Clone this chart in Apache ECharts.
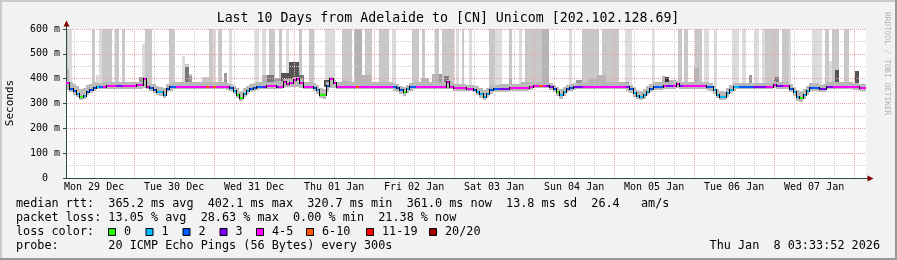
<!DOCTYPE html>
<html><head><meta charset="utf-8">
<script src="https://cdn.jsdelivr.net/npm/echarts@6/dist/echarts.min.js"></script>
<style>html,body{margin:0;padding:0;background:#f2f2f2}#c{width:897px;height:260px}</style>
</head><body><div id="c"></div>
<script>
// ---------------- DATA ----------------
const titleText = 'Last 10 Days from Adelaide to [CN] Unicom [202.102.128.69]';
const dayLabels = ['Mon 29 Dec','Tue 30 Dec','Wed 31 Dec','Thu 01 Jan','Fri 02 Jan','Sat 03 Jan','Sun 04 Jan','Mon 05 Jan','Tue 06 Jan','Wed 07 Jan'];
const startHour = 3.564;   // hours after Mon 29 Dec 00:00
const endHour = 243.564;   // Thu Jan 8 03:33:52
// hourly median rtt (ms)
const median = [
383,360,350,340,325,330,348,355,364,368,
368,368,369,369,369,369,369,369,369,369,
372,373,373,397,368,362,355,348,345,334,
360,366,368,368,368,368,368,368,368,368,
368,368,368,368,368,368,368,368,366,362,
352,336,322,340,352,358,364,366,368,368,
369,369,369,368,368,388,377,382,396,397,
382,368,368,368,364,355,335,334,372,398,
382,368,368,368,368,368,368,368,368,368,
368,368,368,368,368,368,368,368,366,364,
354,347,358,366,368,368,368,368,368,368,
368,368,368,368,385,368,361,361,361,361,
358,358,356,348,337,327,340,354,357,357,
358,358,358,361,361,361,361,361,361,366,
372,372,372,372,372,368,358,346,334,346,
358,362,366,368,368,368,368,368,368,368,
368,368,368,368,368,368,368,368,366,357,
341,330,327,334,348,358,368,368,368,371,
371,371,371,378,370,370,370,370,370,370,
370,370,368,366,354,336,327,327,341,356,
366,368,368,368,368,368,368,368,368,368,
368,368,375,370,370,370,370,360,346,327,
321,334,350,364,364,364,358,360,368,368,
368,368,368,368,368,368,366,366,362,362];
// hourly loss class (index into lossLabels)
const loss = [
4,2,2,1,0,1,2,2,2,1, 2,4,4,4,4,3,3,4,4,4, 4,4,4,4,4,2,2,1,1,1, 2,2,2,4,4,4,4,4,4,4,
4,4,5,4,5,4,4,4,4,2, 1,0,0,1,1,2,2,2,2,3, 4,4,4,3,4,4,4,4,4,4, 4,4,4,4,2,1,0,0,2,4,
4,4,4,4,4,4,4,5,4,4, 4,4,4,4,4,4,4,4,2,2, 2,0,1,2,2,4,4,4,4,4, 4,4,4,4,4,4,4,4,4,4,
4,4,2,1,1,1,1,2,2,2, 3,3,3,4,4,4,4,4,4,4, 4,4,5,4,3,3,2,0,1,1, 2,2,3,3,3,4,4,4,4,4,
4,4,4,4,4,4,4,4,3,2, 1,1,1,1,1,2,2,2,2,4, 3,3,4,4,3,4,4,4,4,4, 4,4,2,2,1,1,1,1,1,1,
1,1,2,2,2,2,3,3,3,3, 4,4,4,3,3,4,4,2,1,1, 0,1,1,2,2,2,3,3,3,3, 4,4,4,4,4,4,4,4,4,4];
// hourly dense smoke range (ms)
const smokeLo = [
355,345,335,325,315,318,335,342,352,357, 357,357,357,357,357,357,357,357,357,357,
360,360,360,362,358,350,342,335,330,322, 345,352,357,357,357,357,357,357,357,357,
357,357,357,357,357,357,357,357,355,350, 338,322,312,325,338,345,350,355,357,357,
357,357,357,357,357,365,365,365,366,366, 362,357,357,357,350,340,322,320,345,362,
362,358,358,358,358,358,358,358,358,358, 358,358,358,358,358,358,358,358,352,348,
338,332,342,352,358,358,358,358,358,358, 358,358,358,358,360,358,352,352,352,352,
350,350,345,335,322,315,325,340,348,348, 348,348,348,352,352,352,352,352,352,355,
362,362,362,362,362,355,345,332,320,332, 345,350,356,358,358,358,358,358,358,358,
358,358,358,358,358,358,358,358,352,343, 328,318,315,320,335,345,356,356,356,360,
360,360,360,362,360,360,360,360,360,360, 360,360,356,352,340,322,314,314,326,342,
352,357,357,357,357,357,357,357,357,357, 357,357,362,360,360,360,360,348,332,312,
308,320,336,350,350,350,346,348,358,358, 358,358,358,358,358,358,355,355,352,352];
const smokeHi = [
440,385,378,372,360,362,375,380,385,383, 383,385,385,385,385,385,385,385,385,385,
388,388,388,405,385,380,378,372,368,362, 380,383,385,385,385,385,385,385,385,385,
385,385,385,385,385,385,385,385,382,378, 372,362,350,362,372,378,382,385,385,385,
388,388,388,390,392,400,398,400,405,405, 400,388,385,385,382,375,362,360,385,405,
395,385,385,385,385,385,385,385,385,385, 385,385,385,385,385,385,385,385,383,380,
372,368,376,382,385,385,385,385,385,385, 385,385,385,385,395,385,380,380,380,380,
375,375,374,370,362,355,362,372,375,375, 378,378,378,380,380,380,380,380,380,382,
385,385,385,385,385,382,376,368,360,368, 376,380,384,384,384,384,386,386,386,386,
386,388,388,388,386,386,386,386,382,376, 365,355,352,358,370,378,385,385,385,388,
388,388,390,392,388,388,388,388,388,388, 388,388,385,382,372,360,352,352,362,374,
382,384,384,384,384,384,384,384,384,384, 384,384,390,386,386,386,386,378,368,355,
350,358,370,382,382,382,376,378,385,385, 385,385,385,385,385,385,382,382,378,378];
// sparse smoke columns: [fromHour, toHour, bottom ms, top ms, density level]
const smokeColumns = [
[3.564,4.2,365,600,1],[4.2,5.4,365,600,0],[11.4,12.3,365,600,1],[13.5,14.4,365,600,0],
[14.4,17.4,365,600,1],[18.3,19.5,365,600,1],[20.4,21.3,365,600,1],[26.4,27.3,365,540,0],
[27.3,29.4,365,600,1],[34.5,36.3,365,600,1],[38.4,39.3,365,490,0],[39.3,40.5,365,460,1],
[40.5,41.4,365,420,1],[44.4,46.5,365,406,1],[46.5,47.7,365,600,1],[47.7,48.6,365,600,0],
[49.2,50.4,365,600,1],[52.5,53.4,365,600,0],[60.3,61.5,365,600,0],[62.4,63.6,365,600,0],
[64.5,66.3,365,600,1],[67.5,68.4,365,600,1],[69.6,70.5,365,600,0],[73.5,74.4,365,600,1],
[76.5,78,365,600,1],[81.3,84.3,365,600,0],[86.4,89.4,365,600,1],[90,92.4,365,600,2],
[93.3,95.4,365,600,1],[97.5,100.5,365,600,1],[101.4,102.6,365,600,0],[107.4,109.5,365,600,1],
[110.4,111.3,365,600,1],[114.3,115.5,365,600,1],[116.4,120,365,600,1],[120.6,121.5,365,600,0],
[122.4,123,365,600,1],[124.5,125.4,365,600,0],[130.5,132.3,365,600,1],[132.3,134.4,365,600,0],
[136.5,137.4,365,600,1],[139.5,140.4,365,600,0],[141.3,146.4,365,600,1],[146.4,148.5,365,600,2],
[154.5,155.4,365,600,0],[158.4,163.5,365,600,1],[164.4,169.5,365,600,1],[171.3,173.4,365,600,0],
[179.4,180,365,600,0],[187.2,188.4,365,600,1],[189,190.2,365,600,1],[192.3,194.4,365,600,1],
[195,196.5,365,600,0],[198,198.9,365,600,0],[203.4,205.5,365,600,0],[206.4,207.6,365,600,0],
[210,211.5,365,600,0],[212.4,213.3,365,600,0],[213.3,217.5,365,600,1],[218.4,220.5,365,600,1],
[220.5,221.1,365,600,0],[227.4,230.4,365,600,0],[231.3,232.5,365,600,1],[232.5,233.4,365,470,0],
[233.4,235.5,365,600,1],[237,238.5,365,600,1],
[3.564,4.5,365,440,3],[12.6,14.1,365,415,0],[25.5,27.3,365,408,3],[39.3,40.5,365,445,4],
[40.5,41.4,365,410,3],[51,51.9,365,423,3],[62.4,63.9,365,415,2],[63.9,66,365,415,4],
[66,68.1,365,404,3],[68.1,70.5,365,422,5],[70.5,73.5,365,468,5],[73.5,75,365,415,4],
[81,82.5,365,395,5],[86.4,88.5,365,390,2],[90.9,95.1,365,415,2],[96.6,97.5,365,388,3],
[110.1,112.5,365,404,2],[113.4,115.5,365,419,2],[115.5,116.4,365,420,3],[117,118.5,365,412,4],
[136.5,137.4,365,404,2],[140.1,143.1,365,388,2],[156.6,158.4,365,395,3],[160.5,162.9,365,397,2],
[162.9,165.6,365,415,2],[170.4,172.5,365,388,3],[182.4,183.3,365,412,2],[183.3,184.5,365,408,6],
[184.5,186.6,365,395,2],[192,193.5,365,442,2],[208.5,209.4,365,415,3],[216,217.5,365,408,4],
[234.3,235.5,365,435,5],[240.3,241.5,365,431,5]];
const lossLabels = ['0','1','2','3','4-5','6-10','11-19','20/20'];
const lossColors = ['#26ff00','#00b8ff','#0059ff','#7e00ff','#ff00ff','#ff5500','#ff0000','#a10000'];
const statLines = [
  'median rtt:  365.2 ms avg  402.1 ms max  320.7 ms min  361.0 ms now  13.8 ms sd  26.4   am/s',
  'packet loss: 13.05 % avg  28.63 % max  0.00 % min  21.38 % now',
  'loss color:',
  'probe:       20 ICMP Echo Pings (56 Bytes) every 300s'];
const stampText = 'Thu Jan  8 03:33:52 2026';
const yAxisTitle = 'Seconds';
const watermark = 'RRDTOOL / TOBI OETIKER';

// ---------------- STYLE / LAYOUT ----------------
const FF = 'DejaVu Sans Mono';
const densityColors = ['#dcdcdc','#c8c8c8','#b4b4b4','#999999','#777777','#555555','#333333'];
const gridL = 66, gridT = 29, gridW = 800, gridH = 149;
const RED = '#f2a0a0', GREY = '#cccccc';

const minorHours = [], midnightHours = [], noonHours = [];
for (let h = 6; h <= 240; h += 6) { if (h % 24) minorHours.push(h); else midnightHours.push(h); }
dayLabels.forEach((d, i) => noonHours.push(12 + 24 * i));

const smokeData = median.map((m, k) => [startHour + k, startHour + k + 1, smokeLo[k], smokeHi[k]]);
const medData = median.map((m, k) => [startHour + k, startHour + k + 1, m, k ? median[k - 1] : m, loss[k]]);

function clip(r, cs) {
  return echarts.graphic.clipRectByRect(r, {x: cs.x, y: cs.y, width: cs.width, height: cs.height});
}
function rectItem(params, api, fill) {
  const p0 = api.coord([api.value(0), api.value(3)]);
  const p1 = api.coord([api.value(1), api.value(2)]);
  const x0 = Math.round(p0[0]), x1 = Math.round(p1[0]);
  const y0 = Math.round(p0[1]), y1 = Math.round(p1[1]);
  const shape = clip({x: x0, y: y0, width: x1 - x0, height: y1 - y0}, params.coordSys);
  if (!shape) return null;
  return {type: 'rect', shape, style: {fill}};
}

const graphics = [];
graphics.push({type:'rect', shape:{x:0,y:0,width:897,height:2}, style:{fill:'#cbcbcb'}, z:100});
graphics.push({type:'rect', shape:{x:0,y:0,width:2,height:260}, style:{fill:'#cbcbcb'}, z:100});
graphics.push({type:'rect', shape:{x:0,y:258,width:897,height:2}, style:{fill:'#999999'}, z:100});
graphics.push({type:'rect', shape:{x:895,y:0,width:2,height:260}, style:{fill:'#999999'}, z:100});
graphics.push({type:'text', x:448, y:19, style:{text:titleText, fontFamily:FF, fontSize:13.25, fill:'#000', align:'center', verticalAlign:'middle'}, z:100});
graphics.push({type:'line', shape:{x1:66.5,y1:25,x2:66.5,y2:29}, style:{stroke:'#2c4d43', lineWidth:1}, z:100});
graphics.push({type:'line', shape:{x1:866,y1:178.5,x2:868,y2:178.5}, style:{stroke:'#2c4d43', lineWidth:1}, z:100});
graphics.push({type:'polygon', shape:{points:[[63.5,26.5],[69.5,26.5],[66.5,20.5]]}, style:{fill:'#7f0000'}, z:100});
graphics.push({type:'polygon', shape:{points:[[867.5,175.5],[867.5,181.5],[873.5,178.5]]}, style:{fill:'#7f0000'}, z:100});
graphics.push({type:'text', x:10, y:103, rotation:Math.PI/2, style:{text:yAxisTitle, fontFamily:FF, fontSize:11, fill:'#000', align:'center', verticalAlign:'middle'}, z:100});
graphics.push({type:'text', x:887, y:12, rotation:-Math.PI/2, style:{text:watermark, fontFamily:FF, fontSize:7.8, fill:'#b0b0b0', align:'left', verticalAlign:'middle'}, z:100});
const lineY = [204, 218.3, 232.3, 246.3];
statLines.forEach((t, i) => graphics.push({type:'text', x:16, y:lineY[i], style:{text:t, fontFamily:FF, fontSize:11.8, fill:'#000', align:'left', verticalAlign:'middle'}, z:100}));
graphics.push({type:'text', x:880, y:lineY[3], style:{text:stampText, fontFamily:FF, fontSize:11.8, fill:'#000', align:'right', verticalAlign:'middle'}, z:100});
const boxX = [108, 145.5, 182.5, 219.5, 256, 306, 366, 429];
lossLabels.forEach((lab, i) => {
  graphics.push({type:'rect', shape:{x:boxX[i]+0.5, y:228.5, width:7, height:7}, style:{fill:lossColors[i], stroke:'#000', lineWidth:1}, z:100});
  graphics.push({type:'text', x:boxX[i]+16, y:lineY[2], style:{text:lab, fontFamily:FF, fontSize:11.8, fill:'#000', align:'left', verticalAlign:'middle'}, z:100});
});

const chart = echarts.init(document.getElementById('c'), null, {renderer:'canvas'});
chart.setOption({
  animation: false,
  backgroundColor: '#f2f2f2',
  grid: {left: gridL, top: gridT, width: gridW, height: gridH, show: true, backgroundColor: '#ffffff', borderWidth: 0, containLabel: false, outerBoundsMode: 'none'},
  xAxis: [{
    type: 'value', min: startHour, max: endHour, position: 'bottom', z: 3,
    axisLine: {show: true, onZero: false, lineStyle: {color: '#2c4d43', width: 1}},
    axisTick: {show: false, customValues: minorHours},
    splitLine: {show: true, lineStyle: {color: GREY, width: 1, type: [1, 1]}},
    axisLabel: {customValues: noonHours, formatter: v => dayLabels[Math.round((v - 12) / 24)], fontFamily: FF, fontSize: 10, color: '#000', margin: 4}
  }, {
    type: 'value', min: startHour, max: endHour, position: 'bottom', z: 3,
    axisLine: {show: false}, axisLabel: {show: false},
    axisTick: {show: false, customValues: midnightHours},
    splitLine: {show: true, lineStyle: {color: RED, width: 1, type: [1, 1]}}
  }],
  yAxis: [{
    type: 'value', min: 0, max: 600, interval: 50, z: 2, position: 'left',
    axisLine: {show: false}, axisTick: {show: false}, axisLabel: {show: false},
    splitLine: {show: true, lineStyle: {color: GREY, width: 1, type: [1, 1]}}
  }, {
    type: 'value', min: 0, max: 600, interval: 100, z: 3, position: 'left',
    axisLine: {show: true, onZero: false, lineStyle: {color: '#2c4d43', width: 1}},
    axisTick: {show: true, length: 3, lineStyle: {color: '#2c4d43'}},
    splitLine: {show: true, lineStyle: {color: RED, width: 1, type: [1, 1]}},
    axisLabel: {formatter: v => v === 0 ? '0  ' : v + ' m', fontFamily: FF, fontSize: 10, color: '#000', margin: 6}
  }],
  series: [{
    type: 'custom', name: 'smoke columns', z: 1, xAxisIndex: 0, yAxisIndex: 1,
    data: smokeColumns, encode: {x: [0, 1], y: [2, 3]},
    renderItem: (params, api) => rectItem(params, api, densityColors[api.value(4)])
  }, {
    type: 'custom', name: 'smoke', z: 1, xAxisIndex: 0, yAxisIndex: 1,
    data: smokeData, encode: {x: [0, 1], y: [2, 3]},
    renderItem: (params, api) => rectItem(params, api, '#b8b8b8')
  }, {
    type: 'custom', name: 'median rtt', z: 4, xAxisIndex: 0, yAxisIndex: 1,
    data: medData, encode: {x: [0, 1], y: [2, 3]},
    renderItem: (params, api) => {
      const a = api.coord([api.value(0), api.value(2)]);
      const b = api.coord([api.value(1), api.value(2)]);
      const p = api.coord([api.value(0), api.value(3)]);
      const x0 = Math.round(a[0]), x1 = Math.round(b[0]), y = Math.round(a[1]), py = Math.round(p[1]);
      const children = [{type: 'rect', shape: {x: x0, y: y - 1, width: x1 - x0, height: 2}, style: {fill: lossColors[api.value(4)]}}];
      if (py !== y) children.push({type: 'rect', shape: {x: x0, y: Math.min(py, y) - 1, width: 1, height: Math.abs(py - y) + 2}, style: {fill: '#000'}});
      return {type: 'group', children};
    }
  }],
  graphic: {elements: graphics}
});
</script>
</body></html>
